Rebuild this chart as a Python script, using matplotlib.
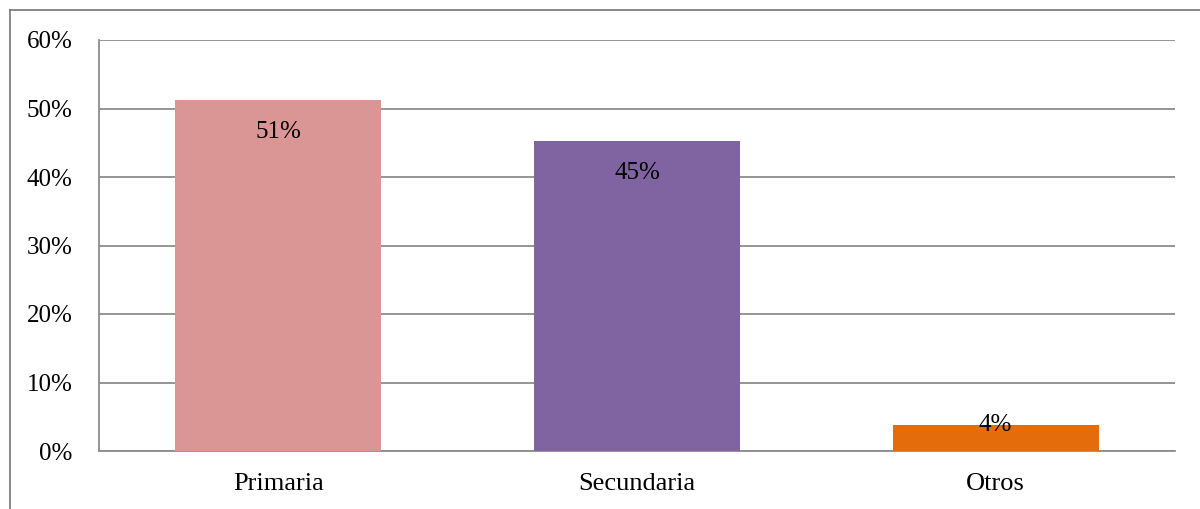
import matplotlib
import matplotlib.pyplot as plt
from matplotlib.lines import Line2D
from matplotlib.ticker import PercentFormatter
matplotlib.use('Agg')

# Datos del gráfico
categorias = ['Primaria', 'Secundaria', 'Otros']
porcentajes = [51.2, 45.2, 3.8]
etiquetas = ['51%', '45%', '4%']
colores = ['#D99694', '#8064A2', '#E46C0A']

plt.rcParams['font.family'] = ['Liberation Serif', 'DejaVu Serif']

fig = plt.figure(figsize=(12, 5.09), dpi=100)
ax = fig.add_axes([99 / 1200, 1 - 451 / 509, (1175 - 99) / 1200, (451 - 40) / 509])

# Marco exterior del gráfico
fig.add_artist(Line2D([10 / 1200, 10 / 1200], [0, 1 - 10 / 509], color='#808080', lw=1.3))
fig.add_artist(Line2D([10 / 1200, 1], [1 - 10 / 509, 1 - 10 / 509], color='#808080', lw=1.3))

x = range(len(categorias))
barras = ax.bar(x, porcentajes, width=0.575, color=colores, zorder=3)

for barra, valor, texto in zip(barras, porcentajes, etiquetas):
    cx = barra.get_x() + barra.get_width() / 2
    if valor > 10:
        ax.annotate(texto, (cx, valor), xytext=(0, -23), textcoords='offset points',
                    ha='center', va='center', fontsize=18, zorder=4)
    else:
        ax.annotate(texto, (cx, valor), ha='center', va='center', fontsize=18, zorder=4)

ax.set_xlim(-0.5, 2.5)
ax.set_ylim(0, 60)
ax.set_yticks(range(0, 61, 10))
ax.yaxis.set_major_formatter(PercentFormatter(decimals=0))
ax.set_xticks(list(x))
ax.set_xticklabels(categorias)
ax.tick_params(axis='both', length=0)
ax.tick_params(axis='y', pad=19, labelsize=18)
ax.tick_params(axis='x', pad=16, labelsize=19)

ax.grid(axis='y', color='#8c8c8c', lw=1.3, zorder=0)
for lado in ['top', 'right']:
    ax.spines[lado].set_visible(False)
ax.spines['left'].set_color('#8c8c8c')
ax.spines['bottom'].set_color('#8c8c8c')
ax.spines['left'].set_linewidth(1.3)
ax.spines['bottom'].set_linewidth(1.3)

plt.savefig('out.png')
plt.close()
